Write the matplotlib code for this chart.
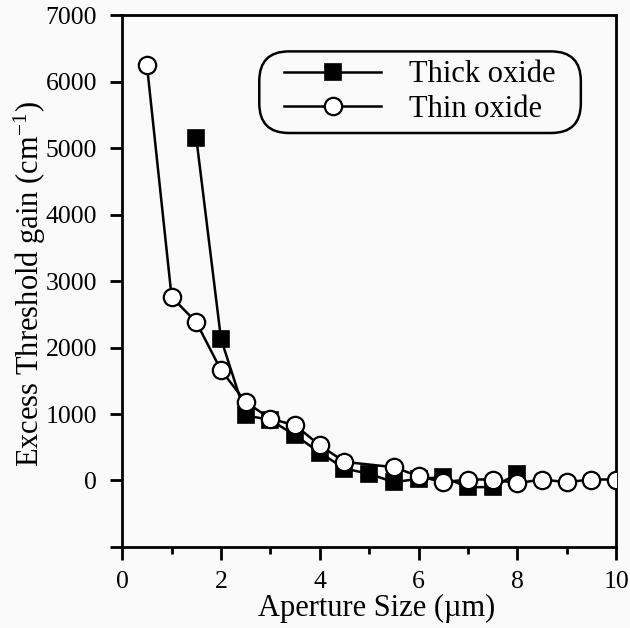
import matplotlib
matplotlib.use("Agg")
import matplotlib.pyplot as plt
from matplotlib.ticker import MultipleLocator
from matplotlib.patches import FancyBboxPatch

plt.rcParams['font.family'] = ['Liberation Serif', 'DejaVu Serif']
plt.rcParams['mathtext.fontset'] = 'stix'

thick_x = [1.5, 2.0, 2.5, 3.0, 3.5, 4.0, 4.5, 5.0, 5.5, 6.0, 6.5, 7.0, 7.5, 8.0]
thick_y = [5150, 2130, 980, 910, 680, 420, 180, 100, -25, 25, 50, -100, -100, 100]

thin_x = [0.5, 1.0, 1.5, 2.0, 2.5, 3.0, 3.5, 4.0, 4.5, 5.5, 6.0, 6.5, 7.0, 7.5, 8.0, 8.5, 9.0, 9.5, 10.0]
thin_y = [6250, 2760, 2380, 1660, 1180, 930, 830, 530, 280, 200, 65, -25, 15, 15, -40, 15, -25, 15, 15]

y_ticks = [-1000, 0, 1000, 2000, 3000, 4000, 5000, 6000, 7000]
y_ticklabels = ['', '0', '1000', '2000', '3000', '4000', '5000', '6000', '7000']

bg = '#fafafa'
fig = plt.figure(figsize=(6.3, 6.28), dpi=100, facecolor=bg)
ax = fig.add_axes([0.194, 0.129, 0.784, 0.847], facecolor=bg)

ax.plot(thick_x, thick_y, color='black', lw=1.8, marker='s', ms=12,
        mfc='black', mec='black', mew=1.2, label='Thick oxide', zorder=2)
ax.plot(thin_x, thin_y, color='black', lw=1.8, marker='o', ms=12.5,
        mfc='white', mec='black', mew=1.6, label='Thin oxide', zorder=3)

ax.set_xlim(0, 10)
ax.set_ylim(-1000, 7000)
ax.xaxis.set_major_locator(MultipleLocator(2))
ax.xaxis.set_minor_locator(MultipleLocator(1))
ax.set_yticks(y_ticks)
ax.set_yticklabels(y_ticklabels)
ax.tick_params(axis='both', which='major', direction='out', length=9, width=2,
               labelsize=18.5, pad=9)
ax.tick_params(axis='x', which='major', pad=8)
ax.tick_params(axis='x', which='minor', direction='out', length=5, width=2)
for s in ax.spines.values():
    s.set_linewidth(2)

ax.set_xlabel('Aperture Size (µm)', fontsize=22)
ax.xaxis.set_label_coords(0.516, -0.089)
ax.set_ylabel(r'Excess Threshold gain (cm$^{\mathregular{-1}}$)', fontsize=22)
ax.yaxis.set_label_coords(-0.150, 0.495)

leg = ax.legend(loc='center', bbox_to_anchor=(0.603, 0.855), fontsize=22,
                handlelength=3.17, handletextpad=0.92, borderpad=0.1,
                labelspacing=0.18, frameon=False)
leg.set_zorder(6)

fig.canvas.draw()
bb = leg.get_window_extent().transformed(ax.transAxes.inverted())
dx = 22 / 494.0
dy = 6 / 532.0
box = FancyBboxPatch((bb.x0 - dx, bb.y0 - dy), bb.width + 2 * dx, bb.height + 2 * dy,
                     boxstyle='round,pad=0,rounding_size=0.06',
                     transform=ax.transAxes, facecolor=bg, edgecolor='black',
                     linewidth=1.8, zorder=5, mutation_aspect=494/532)
ax.add_artist(box)

fig.savefig('out.png', dpi=100, facecolor=bg)
